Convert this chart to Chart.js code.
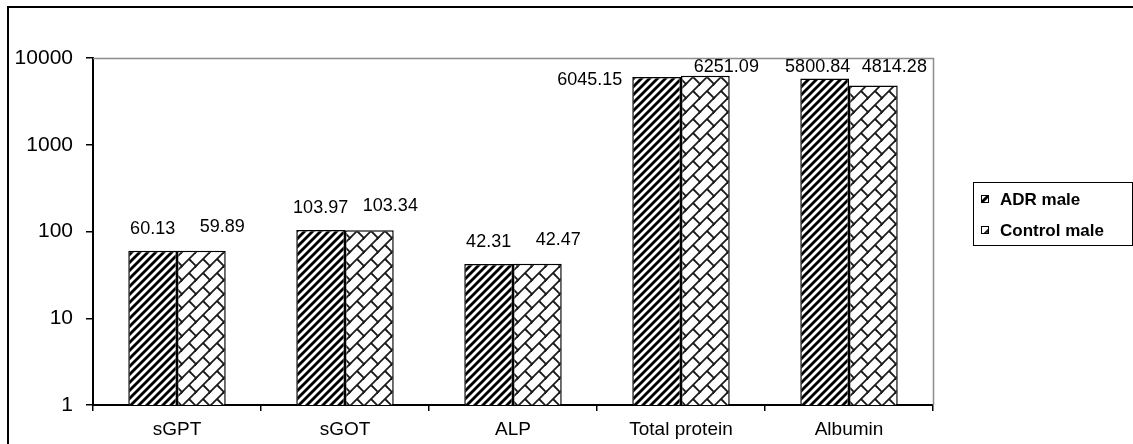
<!DOCTYPE html>
<html>
<head>
<meta charset="utf-8">
<script src="https://cdn.jsdelivr.net/npm/chart.js@4/dist/chart.umd.min.js"></script>
<style>
html,body{margin:0;padding:0;background:#fff;}
#wrap{position:relative;width:1133px;height:444px;}
canvas{display:block;}
</style>
</head>
<body>
<div id="wrap"><canvas id="c" width="1133" height="444"></canvas></div>
<script>
// ---- data ----
const categories = ['sGPT', 'sGOT', 'ALP', 'Total protein', 'Albumin'];
const adrMale = [60.13, 103.97, 42.31, 6045.15, 5800.84];
const controlMale = [59.89, 103.34, 42.47, 6251.09, 4814.28];
const seriesNames = ['ADR male', 'Control male'];
const yTickValues = [1, 10, 100, 1000, 10000];
const valueLabels = [
  ['60.13', '103.97', '42.31', '6045.15', '5800.84'],
  ['59.89', '103.34', '42.47', '6251.09', '4814.28']
];

const FONT = '"Liberation Sans", Arial, sans-serif';

// ---- patterns ----
function stripePattern() {
  const T = 8;
  const c = document.createElement('canvas');
  c.width = T; c.height = T;
  const g = c.getContext('2d');
  g.fillStyle = '#fff'; g.fillRect(0, 0, T, T);
  g.strokeStyle = '#000'; g.lineWidth = 2.9;
  for (const c0 of [0, T, 2 * T]) {
    g.beginPath(); g.moveTo(-6, c0 + 6); g.lineTo(T + 6, c0 - T - 6); g.stroke();
  }
  return g.createPattern(c, 'repeat');
}
function brickPattern() {
  const T = 14;
  const c = document.createElement('canvas');
  c.width = T; c.height = T;
  const g = c.getContext('2d');
  g.fillStyle = '#fff'; g.fillRect(0, 0, T, T);
  g.strokeStyle = '#1a1a1a'; g.lineWidth = 1.8; g.lineCap = 'butt';
  for (const dx of [-T, 0, T]) {
    for (const dy of [-T, 0, T]) {
      g.beginPath(); g.moveTo(dx - 1, dy + T + 1); g.lineTo(dx + T + 1, dy - 1); g.stroke();
      g.beginPath(); g.moveTo(dx + T / 2, dy + T / 2); g.lineTo(dx + T, dy + T); g.stroke();
    }
  }
  return g.createPattern(c, 'repeat');
}
const fills = [stripePattern(), brickPattern()];

// ---- plugins ----
const framePlugin = {
  id: 'frame',
  beforeDraw(chart) {
    const ctx = chart.ctx;
    ctx.save();
    ctx.fillStyle = '#fff';
    ctx.fillRect(0, 0, chart.width, chart.height);
    ctx.fillStyle = '#000';
    ctx.fillRect(7, 6, 2, chart.height);
    ctx.fillRect(7, 6, chart.width, 2);
    ctx.restore();
  },
  beforeDatasetsDraw(chart) {
    const ctx = chart.ctx, a = chart.chartArea;
    ctx.save();
    ctx.strokeStyle = '#8c8c8c';
    ctx.lineWidth = 1.5;
    ctx.beginPath();
    ctx.moveTo(a.left, a.top + 0.5);
    ctx.lineTo(a.right + 0.5, a.top + 0.5);
    ctx.lineTo(a.right + 0.5, a.bottom);
    ctx.stroke();
    ctx.restore();
  }
};

const labelPlugin = {
  id: 'valueLabels',
  afterDatasetsDraw(chart) {
    const ctx = chart.ctx, a = chart.chartArea;
    ctx.save();
    ctx.font = '18px ' + FONT;
    ctx.fillStyle = '#000';
    ctx.textBaseline = 'middle';
    chart.data.datasets.forEach((ds, di) => {
      const meta = chart.getDatasetMeta(di);
      meta.data.forEach((bar, i) => {
        const txt = valueLabels[di][i];
        const p = bar.getProps(['x', 'y', 'width'], true);
        let x = p.x + (di === 1 ? 21 : 0);
        let y = Math.max(p.y - (di === 1 ? 24 : 22), a.top + 9);
        ctx.textAlign = 'center';
        if (di === 0 && i === 3) {
          ctx.textAlign = 'right';
          x = p.x - p.width / 2 - 10;
          y = p.y + 3;
        } else if (di === 0 && i === 4) {
          x = p.x - 7;
        }
        ctx.fillText(txt, x, y);
      });
    });
    ctx.restore();
  }
};

const legendPlugin = {
  id: 'boxLegend',
  afterDraw(chart) {
    const ctx = chart.ctx;
    ctx.save();
    ctx.strokeStyle = '#000';
    ctx.lineWidth = 1;
    ctx.strokeRect(973.5, 182.5, 159, 63);
    ctx.font = 'bold 17px ' + FONT;
    ctx.fillStyle = '#000';
    ctx.textBaseline = 'middle';
    ctx.textAlign = 'left';
    const rows = [199, 230];
    seriesNames.forEach((name, i) => {
      const cy = rows[i];
      ctx.fillStyle = fills[i];
      ctx.fillRect(981, cy - 4, 8, 8);
      ctx.strokeStyle = '#000';
      ctx.strokeRect(981.5, cy - 3.5, 7, 7);
      ctx.fillStyle = '#000';
      ctx.fillText(name, 1000, cy + 1);
    });
    ctx.restore();
  }
};

// ---- chart ----
new Chart(document.getElementById('c'), {
  type: 'bar',
  data: {
    labels: categories,
    datasets: [
      { label: seriesNames[0], data: adrMale, backgroundColor: fills[0], borderColor: '#000', borderWidth: 1.5 },
      { label: seriesNames[1], data: controlMale, backgroundColor: fills[1], borderColor: '#000', borderWidth: 1.5 }
    ]
  },
  options: {
    responsive: false,
    animation: false,
    devicePixelRatio: 1,
    layout: { padding: { left: 0, right: 200, top: 58, bottom: 0 } },
    datasets: { bar: { categoryPercentage: 0.58, barPercentage: 1 } },
    plugins: { legend: { display: false }, tooltip: { enabled: false } },
    scales: {
      x: {
        offset: true,
        grid: { offset: true, drawOnChartArea: false, tickLength: 6, color: '#000', lineWidth: 1.5 },
        border: { color: '#000', width: 2 },
        ticks: { color: '#000', font: { family: FONT, size: 19 }, padding: 7, maxRotation: 0 },
        afterFit(s) { s.height = 39; }
      },
      y: {
        type: 'logarithmic',
        min: 1,
        max: 10000,
        grid: { drawOnChartArea: false, tickLength: 7, color: '#000', lineWidth: 1.5 },
        border: { color: '#000', width: 2 },
        ticks: { color: '#000', font: { family: FONT, size: 21 }, padding: 13, callback: v => String(v) },
        afterBuildTicks(s) { s.ticks = yTickValues.map(v => ({ value: v })); },
        afterFit(s) { s.width = 93; }
      }
    }
  },
  plugins: [framePlugin, labelPlugin, legendPlugin]
});
</script>
</body>
</html>
